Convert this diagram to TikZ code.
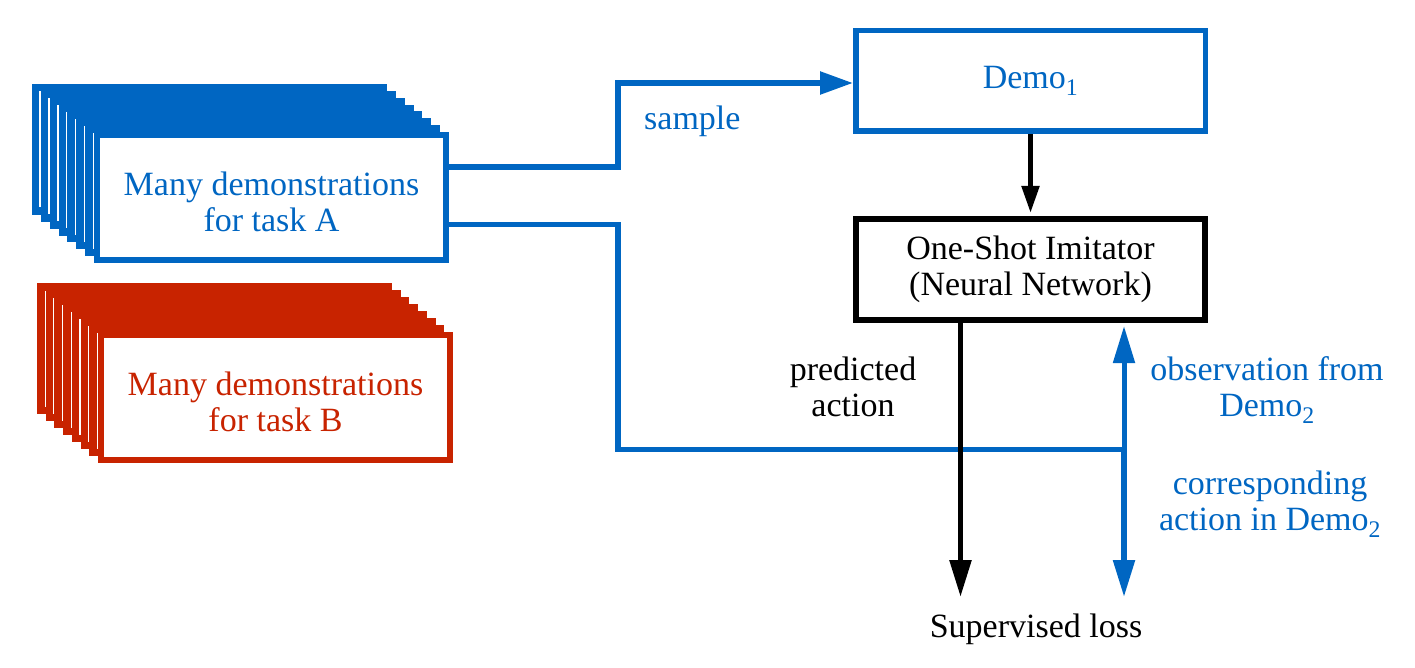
\documentclass[tikz,border=0pt]{standalone}
\usepackage{fontspec}
\setmainfont{Liberation Serif}
\usetikzlibrary{arrows.meta,calc}
\definecolor{dblue}{RGB}{0,102,194}
\definecolor{dred}{RGB}{200,35,0}
\begin{document}
\begin{tikzpicture}[x=1pt,y=-1pt,
  every node/.style={font=\fontsize{34}{36}\selectfont, inner sep=0pt},
  stackbox/.style={draw=#1, fill=white, line width=6pt, minimum width=349pt, minimum height=125pt},
  backbox/.style={stackbox=#1, line width=7.5pt, minimum width=347.5pt, minimum height=123.5pt},
  boxtext/.style={text=#1, align=center, anchor=base},
  demobox/.style={draw=dblue, text=dblue, line width=5.5pt, minimum width=349.5pt, minimum height=100.5pt},
  netbox/.style={draw=black, line width=6pt, minimum width=349pt, minimum height=101pt, align=center},
  blueline/.style={draw=dblue, line width=5.5pt},
  blackline/.style={draw=black, line width=5.5pt},
  bigtip/.style={-{Triangle[length=37pt,width=21pt]}},
  midtip/.style={-{Triangle[length=33pt,width=22pt]}},
  smalltip/.style={-{Triangle[length=27pt,width=17pt]}},
  lbl/.style={align=center, anchor=base}
]
\useasboundingbox (0,0) rectangle (1415,668);

% stack A
\foreach \i in {7,6,...,1} {
  \node[backbox=dblue] (a\i) at ({271.5-8.86*\i},{197.5-6.86*\i}) {};
}
\node[stackbox=dblue] (A) at (271.5,197.5) {};
\node[boxtext=dblue] (At) at (271.5,231.7) {Many demonstrations\\for task A};

% stack B
\foreach \i in {7,6,...,1} {
  \node[backbox=dred] (b\i) at ({275.5-8.71*\i},{397.5-7*\i}) {};
}
\node[stackbox=dred] (B) at (275.5,397.5) {};
\node[boxtext=dred] (Bt) at (275.5,431) {Many demonstrations\\for task B};

% right boxes
\node[demobox] (D1) at (1030.5,81) {Demo\textsubscript{1}};
\node[netbox] (Im) at (1030.5,269.5) {One-Shot Imitator\\(Neural Network)};

% coordinates
\coordinate (sx) at (618,120);
\coordinate (lx) at (618,300);
\coordinate (j) at (1124,449.5);
\coordinate (lt) at (1036,597);
\coordinate (po) at ($(Im.south)+(-70,0)$);
\coordinate (imb) at ($(Im.south)+(0,3)$);
\coordinate (imt) at ($(Im.north)+(0,-3)$);

% connectors
\draw[blueline, midtip] ([yshift=30.5pt]A.east) -| (sx) |- ([yshift=-2pt]D1.west);
\draw[blueline] ([yshift=-27pt]A.east) -| (lx) |- (j);
\draw[blackline, line width=5pt, smalltip] (D1.south) -- (imt);
\draw[blackline, bigtip] (po) -- (po |- lt);
\draw[blueline, line width=5pt, bigtip] (j) -- (imb -| j);
\draw[blueline, bigtip] (j) -- (j |- lt);

% labels
\node[text=dblue, anchor=base west] (smp) at (644,130) {sample};
\node[lbl] (pred) at (853,416) {predicted\\action};
\node[lbl, text=dblue] (obs) at (1267,416.7) {observation from\\Demo\textsubscript{2}};
\node[lbl, text=dblue] (corr) at (1270,530.7) {corresponding\\action in Demo\textsubscript{2}};
\node[lbl] (loss) at (1036,637) {Supervised loss};
\end{tikzpicture}
\end{document}
